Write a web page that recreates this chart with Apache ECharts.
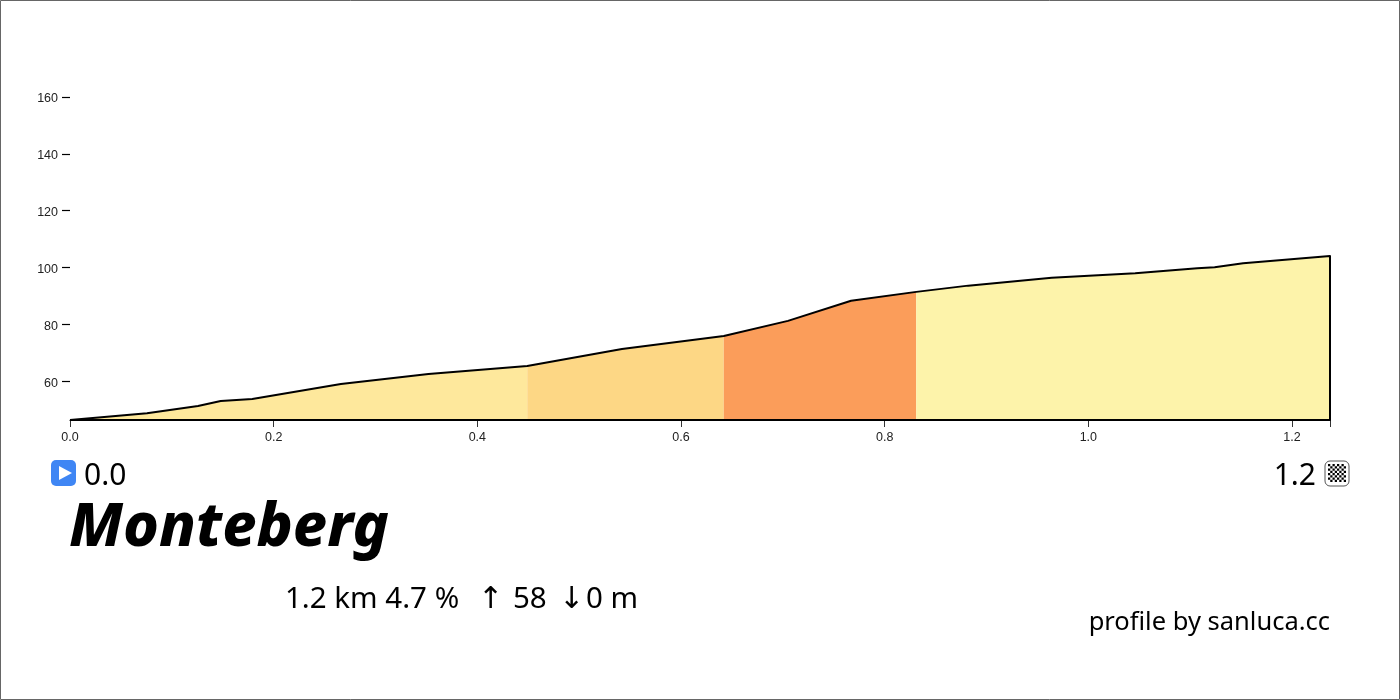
<!DOCTYPE html>
<html><head><meta charset="utf-8">
<style>html,body{margin:0;padding:0;background:#fff}#c{width:1400px;height:700px}</style>
<script src="https://cdn.jsdelivr.net/npm/echarts@6/dist/echarts.min.js"></script>
</head><body><div id="c"></div>
<script>
const distances=[0,0.0756,0.1257,0.148,0.179,0.266,0.352,0.449,0.542,0.642,0.705,0.767,0.831,0.882,0.964,1.046,1.107,1.124,1.152,1.2373];
const elevations=[46.3,48.7,51.2,53,53.7,59,62.5,65.3,71.3,75.9,81.2,88.3,91.4,93.6,96.4,98.0,99.7,100.1,101.5,104];
const segmentEnds=[0.449,0.642,0.831,1.2373];
const segmentColors=['#fee89c','#fdd785','#fb9d5a','#fdf3aa'];
const xTicks=[0,0.2,0.4,0.6,0.8,1.0,1.2];
const yTicks=[60,80,100,120,140,160];
const xMax=1.2373,yMin=46.3,yMax=160;
const title='Monteberg';
const startLabel='0.0',endLabel='1.2';
const statText='1.2 km 4.7 %',climbText='58',dropText='0 m',upArrow='↑',downArrow='↓';
const credit='profile by sanluca.cc';
const font='"Noto Sans","Open Sans",sans-serif';
const pts=distances.map((d,i)=>[d,elevations[i]]);
const areaSeries=segmentEnds.map((end,i)=>{
  const start=i?segmentEnds[i-1]:0;
  return {type:'line',symbol:'none',silent:true,z:2,lineStyle:{width:0},
    areaStyle:{color:segmentColors[i],opacity:1,origin:'start'},
    data:pts.filter(p=>p[0]>=start&&p[0]<=end)};
});
const outline={type:'line',symbol:'none',silent:true,z:5,clip:false,
  lineStyle:{color:'#000',width:2,join:'round'},
  data:pts.concat([[xMax,yMin],[0,yMin]])};
const checker=[];
for(let r=0;r<8;r++)for(let c=0;c<8;c++){ if((r+c)%2===0) checker.push({type:'rect',shape:{x:1328+c*2.25,y:464+r*2.25,width:2.25,height:2.25},style:{fill:'#000'}}); }
const labelFont='"Liberation Sans",Arial,sans-serif';
const chart=echarts.init(document.getElementById('c'),null,{renderer:'canvas'});
chart.setOption({
  animation:false,backgroundColor:'#fff',
  grid:{left:70,right:70,top:97,bottom:280,containLabel:false},
  xAxis:{type:'value',min:0,max:xMax,
    axisLine:{show:true,onZero:false,lineStyle:{color:'#000',width:1}},
    axisTick:{show:true,length:7,customValues:xTicks.concat([xMax]),lineStyle:{color:'#333',width:1}},
    axisLabel:{show:true,customValues:xTicks,formatter:v=>v.toFixed(1),color:'#222',fontSize:12.5,margin:11,fontFamily:labelFont},
    splitLine:{show:false}},
  yAxis:{type:'value',min:yMin,max:yMax,
    axisLine:{show:false},
    axisTick:{show:true,length:8,customValues:yTicks,lineStyle:{color:'#000',width:1.2}},
    axisLabel:{show:true,customValues:yTicks,formatter:v=>'{a|'+v+'}',margin:12,
      rich:{a:{color:'#222',fontSize:12.5,fontFamily:labelFont,padding:[4,0,0,0]}}},
    splitLine:{show:false}},
  series:areaSeries.concat([outline]),
  graphic:{elements:[
    {type:'rect',shape:{x:0.5,y:0.5,width:1399,height:699},style:{fill:null,stroke:'#666',lineWidth:1},silent:true},
    {type:'rect',shape:{x:51,y:460,width:25,height:26,r:5},style:{fill:'#3f86f4'}},
    {type:'polygon',shape:{points:[[59,466],[59,480],[72,473]]},style:{fill:'#fff'}},
    {type:'text',x:84,y:461,style:{text:startLabel,font:'30px '+font,fill:'#000'}},
    {type:'text',x:1316,y:461,style:{text:endLabel,font:'30px '+font,fill:'#000',align:'right'}},
    {type:'rect',shape:{x:1325,y:461,width:24,height:25,r:5},style:{fill:'#fff',stroke:'#555',lineWidth:1}},
    {type:'group',children:checker},
    {type:'text',x:69,y:499,style:{text:title,font:'italic 800 60.5px '+font,fill:'#000'}},
    {type:'text',x:285,y:585,style:{text:statText,font:'29.5px '+font,fill:'#000'}},
    {type:'text',x:478,y:585,style:{text:upArrow,font:'30px "DejaVu Sans"',fill:'#000'}},
    {type:'text',x:513,y:585,style:{text:climbText,font:'29.5px '+font,fill:'#000'}},
    {type:'text',x:559,y:585,style:{text:downArrow,font:'30px "DejaVu Sans"',fill:'#000'}},
    {type:'text',x:586,y:585,style:{text:dropText,font:'29.5px '+font,fill:'#000'}},
    {type:'text',x:1330,y:610,style:{text:credit,font:'25.5px '+font,fill:'#000',align:'right'}}
  ]}
});
</script></body></html>
